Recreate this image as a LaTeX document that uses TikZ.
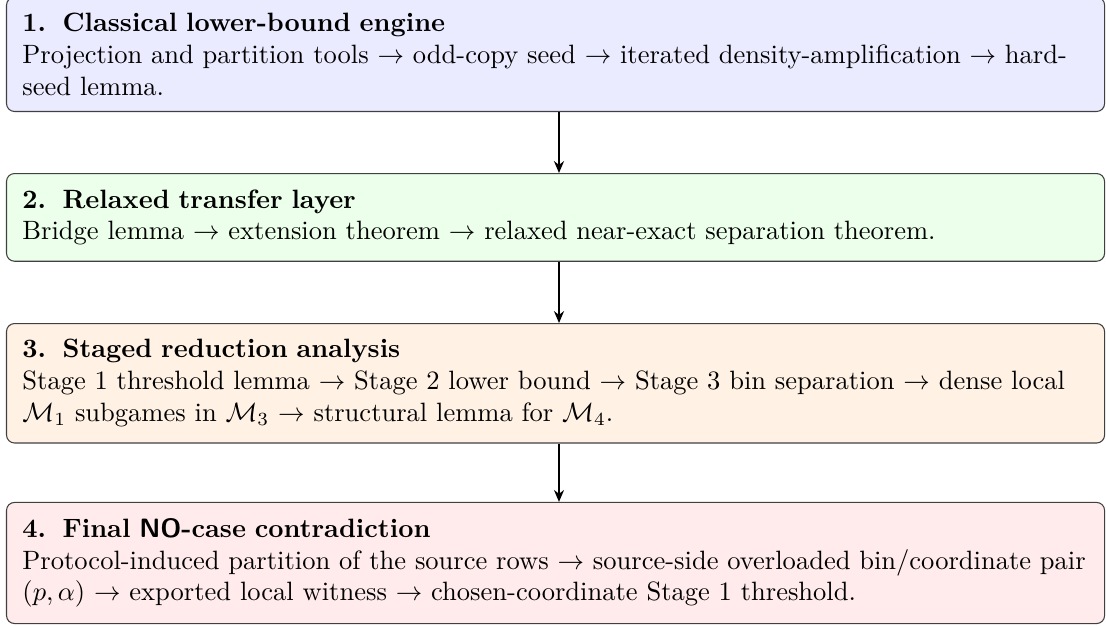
\documentclass[tikz,border=0pt]{standalone}
\usetikzlibrary{arrows.meta}
\begin{document}
\begin{tikzpicture}[x=1pt,y=1pt,
  stagebox/.style={draw=black!75, line width=0.4pt, rounded corners=3pt,
    text width=402pt, align=left, inner xsep=6pt, inner ysep=6pt,
    font=\normalsize},
  flowarrow/.style={-{Stealth[length=4.5pt,width=3.8pt]}, line width=0.6pt, black}]
\useasboundingbox (0,0) rectangle (417,-235.7);
\node[stagebox, fill=blue!8, anchor=south west] (b1) at (2.26,-42.23)
  {\textbf{1.\hspace{6.2pt}Classical lower-bound engine}\\
   Projection and partition tools $\rightarrow$ odd-copy seed $\rightarrow$ iterated density-amplification $\rightarrow$ hard-seed lemma.};
\node[stagebox, fill=green!8, anchor=north west] (b2) at (2.26,-65.23)
  {\textbf{2.\hspace{6.2pt}Relaxed transfer layer}\\
   Bridge lemma $\rightarrow$ extension theorem $\rightarrow$ relaxed near-exact separation theorem.};
\node[stagebox, fill=orange!10, anchor=north west] (b3) at (2.26,-121.79)
  {\textbf{3.\hspace{6.2pt}Staged reduction analysis}\\
   Stage 1 threshold lemma $\rightarrow$ Stage 2 lower bound $\rightarrow$ Stage 3 bin separation $\rightarrow$ dense local $\mathcal{M}_1$ subgames in $\mathcal{M}_3$ $\rightarrow$ structural lemma for $\mathcal{M}_4$.};
\node[stagebox, fill=red!8, anchor=south west] (b4) at (2.26,-235.29)
  {\textbf{4.\hspace{6.2pt}Final \textsf{NO}-case contradiction}\\
   Protocol-induced partition of the source rows $\rightarrow$ source-side overloaded bin/coordinate pair $(p,\alpha)$ $\rightarrow$ exported local witness $\rightarrow$ chosen-coordinate Stage 1 threshold.};
\draw[flowarrow] ([xshift=1.3pt]b1.south) -- ([xshift=1.3pt]b2.north);
\draw[flowarrow] ([xshift=1.3pt]b2.south) -- ([xshift=1.3pt]b3.north);
\draw[flowarrow] ([xshift=1.3pt]b3.south) -- ([xshift=1.3pt]b4.north);
\end{tikzpicture}
\end{document}
